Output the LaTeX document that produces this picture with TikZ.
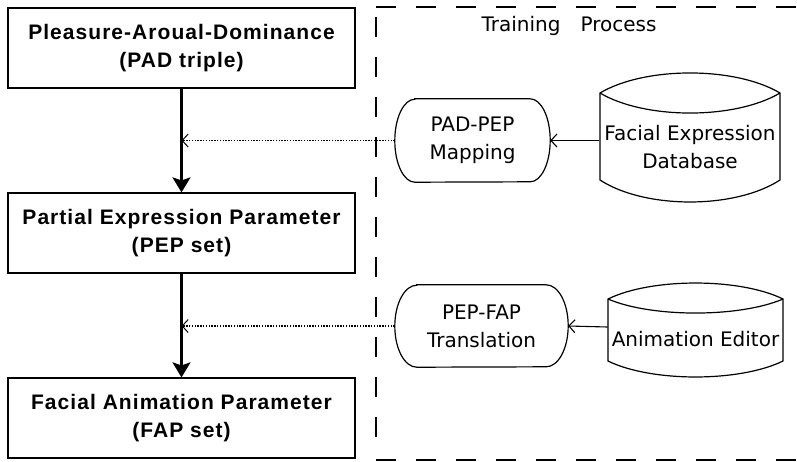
\documentclass[tikz,border=0pt]{standalone}
\usepackage{fontspec}
\usetikzlibrary{arrows.meta}
\newfontfamily\stagefont[LetterSpace=5]{Liberation Sans Bold}
\newfontfamily\procfont{DejaVu Sans}

\tikzset{
  stage/.style={draw, line width=1.2pt, minimum width=347pt, minimum height=80pt,
    align=center, inner sep=0pt, font=\stagefont\fontsize{21}{28}\selectfont},
  proc/.style={minimum width=155pt, minimum height=83pt, align=center, inner sep=0pt,
    font=\procfont\fontsize{20}{28}\selectfont},
  store/.style={align=center, inner sep=0pt, font=\procfont\fontsize{20}{28}\selectfont},
  outline/.style={line width=1.2pt},
  flow/.style={line width=2.4pt, -{Stealth[length=15pt,width=18pt,inset=3pt]}},
  feed/.style={line width=1.4pt, dash pattern=on 1.4pt off 1.4pt,
    -{Straight Barb[length=6pt,width=13pt,line width=1pt]}},
  pull/.style={line width=1.1pt, -{Straight Barb[length=6pt,width=13pt,line width=1.1pt]}},
  frame/.style={line width=1.1pt, dash pattern=on 20pt off 20pt},
}

\begin{document}
\begin{tikzpicture}[x=1pt, y=-1pt]
\useasboundingbox (0,0) rectangle (797,461);

% main pipeline
\node[stage] (pad) at (181.5,48)  {Pleasure-Aroual-Dominance\\(PAD triple)};
\node[stage] (pep) at (181.5,233) {Partial Expression Parameter\\(PEP set)};
\node[stage] (fap) at (181.5,418) {Facial Animation Parameter\\(FAP set)};

\draw[flow] (pad.south) -- (pep.north);
\draw[flow] (pep.south) -- (fap.north);

% training process frame
\draw[frame] (376,7) -- (797,7);
\draw[frame] (376,17) -- (376,440);
\draw[frame] (376,460) -- (797,460);
\node[store, anchor=base] (title) at (569,31) {Training\hspace{20pt}Process};

% mapping / translation stages
\node[proc] (map) at (472.5,140.5) {PAD-PEP\\Mapping};
\node[proc, minimum width=173pt, minimum height=82pt] (trans) at (481.5,326) {PEP-FAP\\Translation};

\draw[outline] ([xshift=20pt]map.north west) -- ([xshift=-20pt]map.north east)
  arc[start angle=90, end angle=-90, x radius=20pt, y radius=41.5pt]
  -- ([xshift=20pt]map.south west)
  arc[start angle=270, end angle=90, x radius=20pt, y radius=41.5pt] -- cycle;
\draw[outline] ([xshift=22pt]trans.north west) -- ([xshift=-22pt]trans.north east)
  arc[start angle=90, end angle=-90, x radius=22pt, y radius=41pt]
  -- ([xshift=22pt]trans.south west)
  arc[start angle=270, end angle=90, x radius=22pt, y radius=41pt] -- cycle;

% data stores
\node[store] (fedb) at (690,147.5) {Facial Expression\\Database};
\node[store] (anim) at (695.5,339) {Animation Editor};

\begin{scope}[shift={(fedb.center)}]
  \draw[outline] (-90,-54.5) .. controls (-45,-81.2) and (45,-81.2) .. (90,-54.5)
    -- (90,32.5) .. controls (45,61.8) and (-45,61.8) .. (-90,32.5) -- cycle;
  \draw[outline] (-90,-54.5) .. controls (-45,-27.8) and (45,-27.8) .. (90,-54.5);
\end{scope}
\begin{scope}[shift={(anim.center)}]
  \draw[outline] (-87.5,-40) .. controls (-44,-61.3) and (44,-61.3) .. (87.5,-40)
    -- (87.5,22) .. controls (44,43.3) and (-44,43.3) .. (-87.5,22) -- cycle;
  \draw[outline] (-87.5,-40) .. controls (-44,-21.3) and (44,-21.3) .. (87.5,-40);
\end{scope}

% connectors
\draw[pull] (map.east -| fedb.west) ++(-5,0) -- (map.east);
\draw[pull] (trans.east -| anim.west) ++(-4,1) -- (trans.east);
\draw[feed] (map.west) -- (map.west -| pad.south);
\draw[feed] (trans.west) -- (trans.west -| pep.south);
\end{tikzpicture}
\end{document}
